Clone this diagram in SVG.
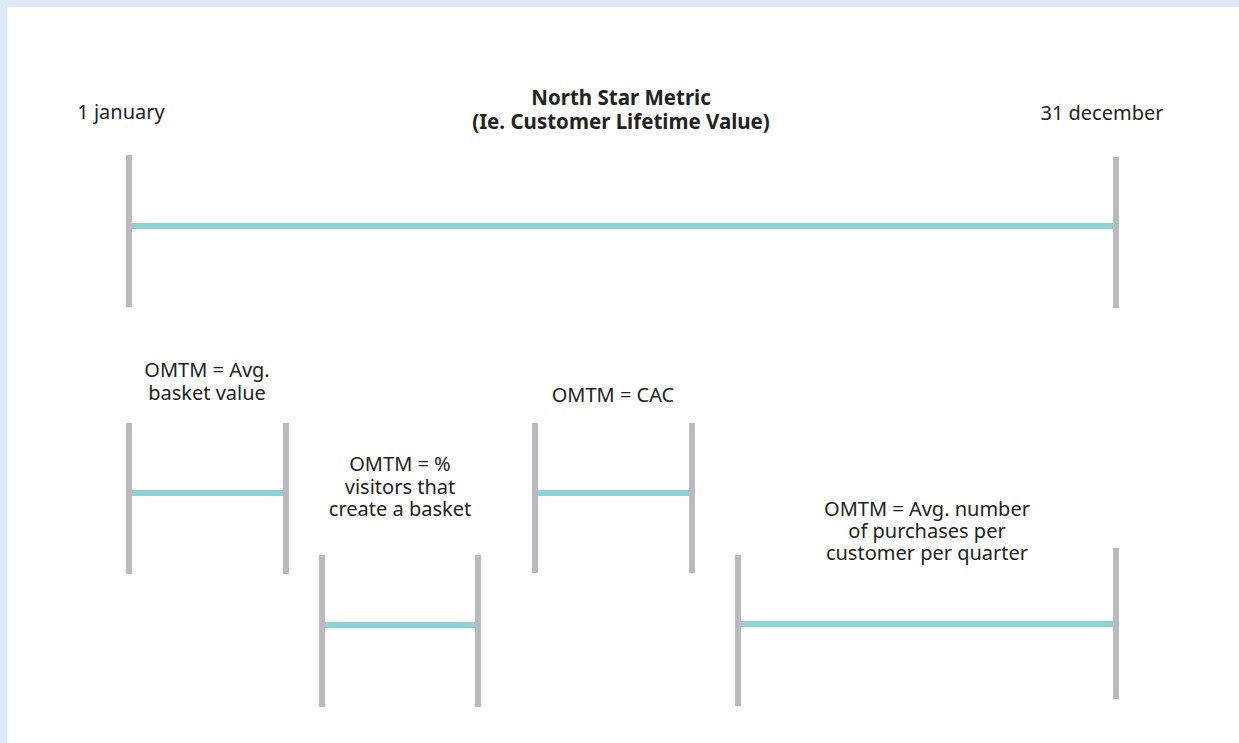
<svg xmlns="http://www.w3.org/2000/svg" width="1239" height="743" viewBox="0 0 1239 743">
<style>
.t{font-family:"Noto Sans","Lato",sans-serif;font-size:20px;fill:#222;text-anchor:middle}
.b{font-weight:bold;font-size:20.5px}
.g{stroke:#b9b9bf;stroke-width:6}
.c{stroke:#8dd3d6;stroke-width:6;stroke-linecap:butt}
</style>
<rect width="1239" height="743" fill="#dee9f6"/>
<rect x="7" y="7" width="1232" height="736" fill="#ffffff"/>
<g id="labels">
<text class="t" x="121" y="119">1 january</text>
<g id="title"><text class="t b" x="621" y="105">North Star Metric</text><text class="t b" x="621" y="129">(Ie. Customer Lifetime Value)</text></g>
<text class="t" x="1102" y="120">31 december</text>
</g>
<g id="connectors">
<line class="c" x1="129" y1="226" x2="1116" y2="226"/>
<line class="c" x1="129" y1="493" x2="286" y2="493"/>
<line class="c" x1="322" y1="625" x2="478" y2="625"/>
<line class="c" x1="535" y1="493" x2="692" y2="493"/>
<line class="c" x1="738" y1="624" x2="1116" y2="624"/>
</g>
<g id="north-star">
<line class="g" x1="129" y1="155" x2="129" y2="307"/>
<line class="g" x1="1116" y1="157" x2="1116" y2="308"/>
</g>
<g id="omtm-basket-value">
<line class="g" x1="129" y1="423" x2="129" y2="574"/>
<line class="g" x1="286" y1="423" x2="286" y2="574"/>
<text class="t" x="207" y="377">OMTM = Avg.</text>
<text class="t" x="207" y="400">basket value</text>
</g>
<g id="omtm-visitors">
<line class="g" x1="322" y1="555" x2="322" y2="707"/>
<line class="g" x1="478" y1="555" x2="478" y2="707"/>
<text class="t" x="400" y="471">OMTM = %</text>
<text class="t" x="400" y="494">visitors that</text>
<text class="t" x="400" y="516">create a basket</text>
</g>
<g id="omtm-cac">
<line class="g" x1="535" y1="423" x2="535" y2="573"/>
<line class="g" x1="692" y1="423" x2="692" y2="573"/>
<text class="t" x="613" y="402">OMTM = CAC</text>
</g>
<g id="omtm-purchases">
<line class="g" x1="738" y1="555" x2="738" y2="706"/>
<line class="g" x1="1116" y1="548" x2="1116" y2="699"/>
<text class="t" x="927" y="516">OMTM = Avg. number</text>
<text class="t" x="927" y="538">of purchases per</text>
<text class="t" x="927" y="560">customer per quarter</text>
</g>
</svg>
